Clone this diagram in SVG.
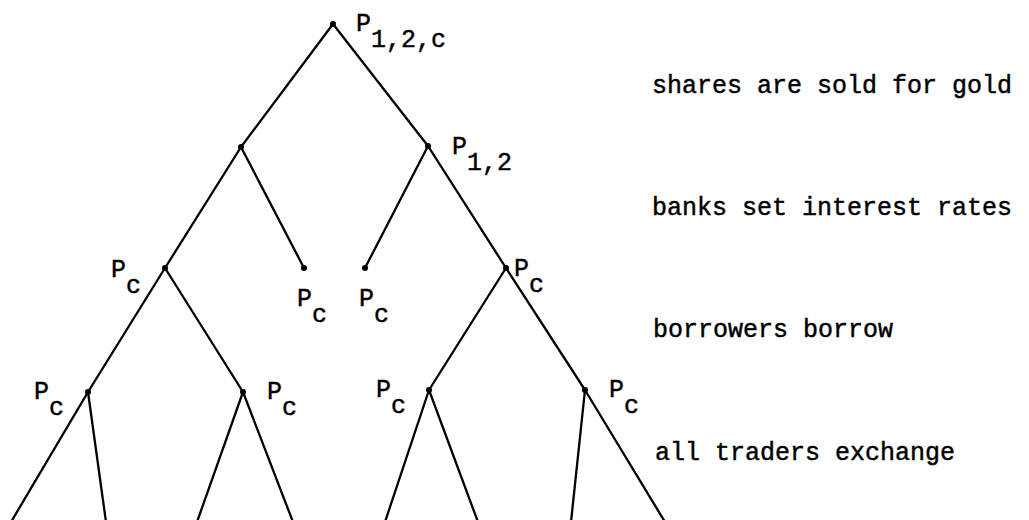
<svg xmlns="http://www.w3.org/2000/svg" width="1029" height="520" viewBox="0 0 1029 520">
<style>
  .edge { stroke: #000; stroke-width: 2.3; fill: none; stroke-linecap: round; }
  .dot { fill: #000; }
  .lbl { font-family: "Liberation Mono", "Courier New", monospace; font-size: 25px; fill: #000; stroke: #000; stroke-width: 0.45; }
</style>
<rect width="1029" height="520" fill="#fff"/>
<g id="connectors">
  <line class="edge" x1="333" y1="24" x2="241" y2="147"/>
  <line class="edge" x1="333" y1="24" x2="428" y2="146"/>
  <line class="edge" x1="241" y1="147" x2="165" y2="268"/>
  <line class="edge" x1="241" y1="147" x2="304" y2="268"/>
  <line class="edge" x1="428" y1="146" x2="365" y2="268"/>
  <line class="edge" x1="428" y1="146" x2="506" y2="268"/>
  <line class="edge" x1="165" y1="268" x2="88" y2="392"/>
  <line class="edge" x1="165" y1="268" x2="243" y2="392"/>
  <line class="edge" x1="506" y1="268" x2="429" y2="390"/>
  <line class="edge" x1="506" y1="268" x2="585" y2="390"/>
  <line class="edge" x1="88" y1="392" x2="11" y2="522"/>
  <line class="edge" x1="88" y1="392" x2="106" y2="522"/>
  <line class="edge" x1="243" y1="392" x2="197" y2="522"/>
  <line class="edge" x1="243" y1="392" x2="293" y2="522"/>
  <line class="edge" x1="429" y1="390" x2="385" y2="522"/>
  <line class="edge" x1="429" y1="390" x2="478" y2="522"/>
  <line class="edge" x1="585" y1="390" x2="571" y2="522"/>
  <line class="edge" x1="585" y1="390" x2="665" y2="522"/>
</g>
<g id="root"><circle class="dot" cx="333" cy="24" r="3"/><text class="lbl" x="356" y="31">P<tspan dy="16">1,2,c</tspan></text></g>
<g id="n-left"><circle class="dot" cx="241" cy="147" r="3"/></g>
<g id="n-right"><circle class="dot" cx="428" cy="146" r="3"/><text class="lbl" x="452" y="154">P<tspan dy="16">1,2</tspan></text></g>
<g id="n-ll"><circle class="dot" cx="165" cy="268" r="3"/><text class="lbl" x="111" y="277">P<tspan dy="16">c</tspan></text></g>
<g id="n-lr"><circle class="dot" cx="304" cy="268" r="3"/><text class="lbl" x="297" y="306">P<tspan dy="16">c</tspan></text></g>
<g id="n-rl"><circle class="dot" cx="365" cy="268" r="3"/><text class="lbl" x="359" y="306">P<tspan dy="16">c</tspan></text></g>
<g id="n-rr"><circle class="dot" cx="506" cy="268" r="3"/><text class="lbl" x="514" y="276">P<tspan dy="16">c</tspan></text></g>
<g id="n-lll"><circle class="dot" cx="88" cy="392" r="3"/><text class="lbl" x="34" y="399">P<tspan dy="16">c</tspan></text></g>
<g id="n-llr"><circle class="dot" cx="243" cy="392" r="3"/><text class="lbl" x="267" y="399">P<tspan dy="16">c</tspan></text></g>
<g id="n-rrl"><circle class="dot" cx="429" cy="390" r="3"/><text class="lbl" x="376" y="397">P<tspan dy="16">c</tspan></text></g>
<g id="n-rrr"><circle class="dot" cx="585" cy="390" r="3"/><text class="lbl" x="609" y="397">P<tspan dy="16">c</tspan></text></g>
<g id="stages">
  <text class="lbl" x="652" y="93">shares are sold for gold</text>
  <text class="lbl" x="652" y="215">banks set interest rates</text>
  <text class="lbl" x="653" y="337">borrowers borrow</text>
  <text class="lbl" x="655" y="460">all traders exchange</text>
</g>
</svg>
